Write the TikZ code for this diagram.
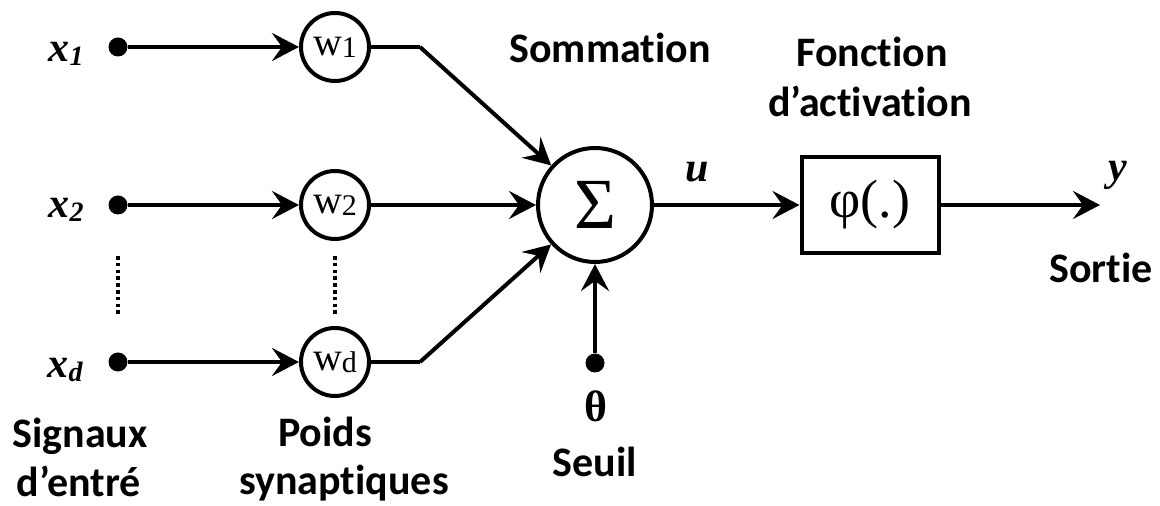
\documentclass[tikz,border=0pt]{standalone}
\usepackage{fontspec}
\setmainfont{Carlito}[Ligatures=NoCommon]
\newfontfamily\mf{Liberation Serif}
\usetikzlibrary{arrows.meta}
\tikzset{
  lw/.style={line width=2pt},
  arr/.style={lw, -{Stealth[length=13.5pt,width=14pt,inset=5pt]}},
  dotnode/.style={circle, fill=black, inner sep=0pt, minimum size=9.5pt},
  wnode/.style={circle, draw, lw, inner sep=0pt, minimum size=34pt, font=\mf\fontsize{20}{20}\selectfont},
  signode/.style={circle, draw, lw, inner sep=0pt, minimum size=57pt, font=\mf\fontsize{36}{36}\selectfont},
  boxnode/.style={draw, lw, inner sep=0pt, minimum width=68.5pt, minimum height=48pt, font=\mf\fontsize{27}{27}\selectfont},
  lbl/.style={font=\bfseries\fontsize{21}{24}\selectfont, inner sep=0pt, anchor=base, align=center},
  vlbl/.style={font=\mf\bfseries\itshape\fontsize{21}{21}\selectfont, inner sep=0pt, anchor=base},
  dots/.style={line width=2pt, dash pattern=on 1.8pt off 1.6pt}
}
\newcommand{\xs}[1]{x\raisebox{-2pt}{\fontsize{14}{14}\selectfont #1}}
\newcommand{\ws}[1]{w\raisebox{-1pt}{\fontsize{15}{15}\selectfont #1}}
\begin{document}
\begin{tikzpicture}[x=0.5pt,y=-0.5pt]
\useasboundingbox (0,0) rectangle (1160,506);
% inputs
\node[dotnode] (d1) at (118,47) {};
\node[dotnode] (d2) at (118,205) {};
\node[dotnode] (dd) at (118,362) {};
\node[vlbl] (lx1) at (66,62) {\xs{1}};
\node[vlbl] (lx2) at (66,218) {\xs{2}};
\node[vlbl] (lxd) at (65,378) {\xs{d}};
% weights
\node[wnode] (w1) at (335,47) {\ws{1}};
\node[wnode] (w2) at (335,205) {\ws{2}};
\node[wnode] (wd) at (335,362) {\ws{d}};
\draw[arr] (d1) -- (w1);
\draw[arr] (d2) -- (w2);
\draw[arr] (dd) -- (wd);
% dotted
\coordinate (p1) at (118,256);
\coordinate (p2) at (118,314);
\coordinate (q1) at (335,256);
\coordinate (q2) at (335,314);
\draw[dots] (p1) -- (p2);
\draw[dots] (q1) -- (q2);
% sum
\node[signode] (sig) at (595,205) {Σ};
\coordinate (b1) at (420,47);
\coordinate (bd) at (420,362);
\draw[lw] (w1) -- (b1);
\draw[arr] (b1) -- (sig);
\draw[arr] (w2) -- (sig);
\draw[lw] (wd) -- (bd);
\draw[arr] (bd) -- (sig);
% threshold
\node[dotnode] (th) at (595,363) {};
\draw[arr] (th) -- (sig);
\node[font=\mf\bfseries\fontsize{22}{22}\selectfont, inner sep=0pt, anchor=base] (lth) at (596,422) {θ};
% activation
\node[boxnode] (phi) at (870,205) {φ(.)};
\draw[arr] (sig) -- (phi);
\node[vlbl] (lu) at (697,182) {u};
\coordinate (out) at (1100,205);
\draw[arr] (phi) -- (out);
\node[vlbl] (ly) at (1118,181) {y};
% labels
\node[lbl] (lsom) at (610,63) {Sommation};
\node[lbl] (lfon) at (872,67) {Fonction};
\node[lbl] (lact) at (870,117) {d’activation};
\node[lbl] (lsor) at (1101,283) {Sortie};
\node[lbl] (lseu) at (595,477) {Seuil};
\node[lbl] (lsig) at (80,448) {Signaux};
\node[lbl] (lent) at (79,497) {d’entré};
\node[lbl] (lpoi) at (325,447) {Poids};
\node[lbl] (lsyn) at (344,495) {synaptiques};
\end{tikzpicture}
\end{document}
